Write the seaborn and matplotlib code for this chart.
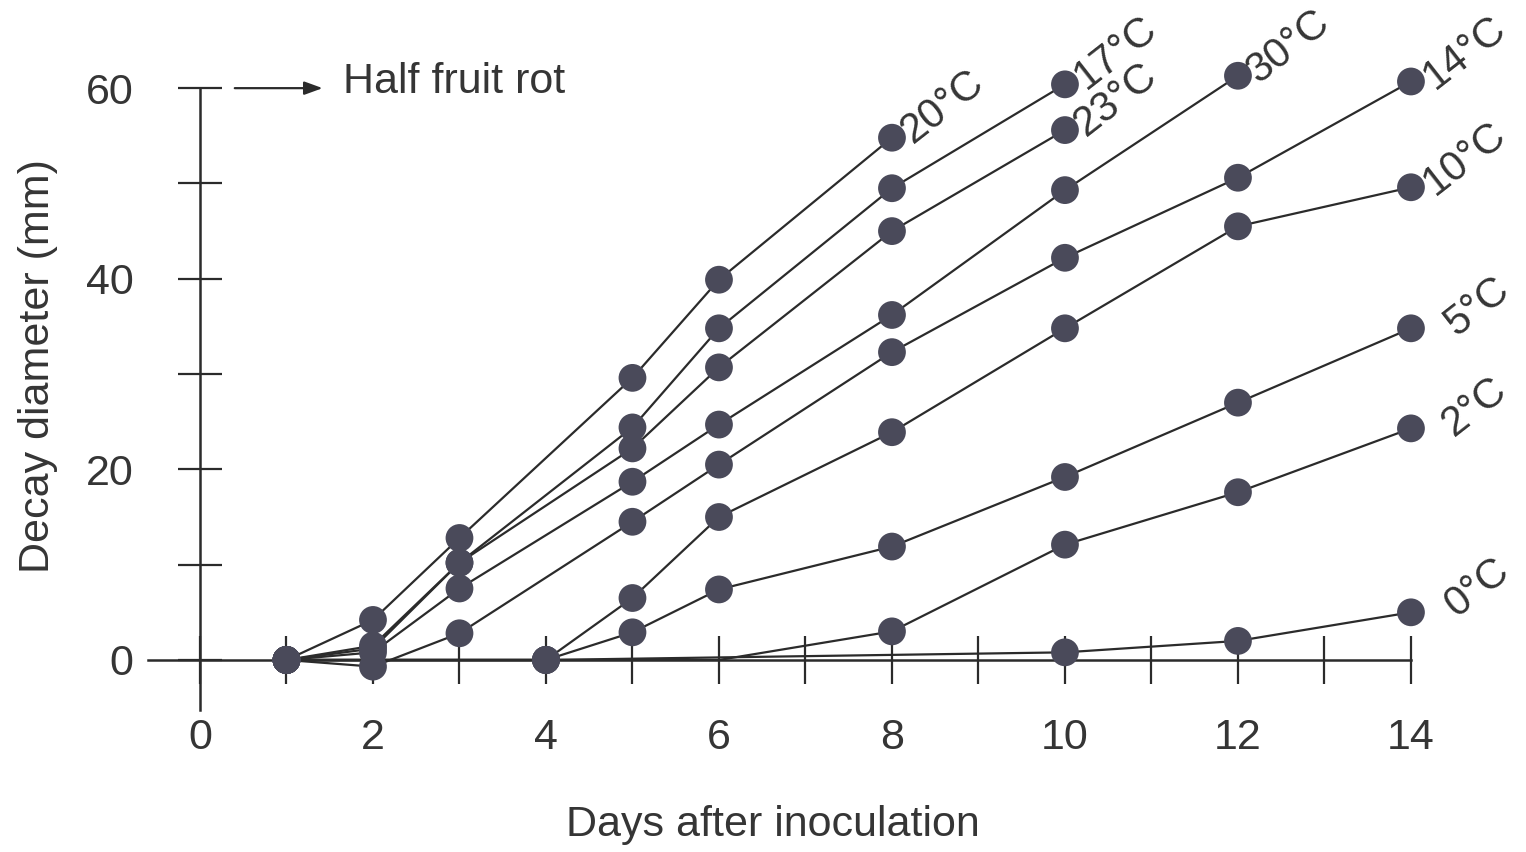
import matplotlib
matplotlib.use("Agg")
import matplotlib.pyplot as plt
import seaborn as sns
import pandas as pd
import numpy as np

# ---------------- data ----------------
series_names = ["20°C", "17°C", "23°C", "30°C", "14°C", "10°C", "5°C", "2°C", "0°C"]

days_20 = [1, 2, 3, 5, 6, 8]
vals_20 = [0, 4.2, 12.8, 29.6, 39.9, 54.8]

days_17 = [1, 2, 3, 5, 6, 8, 10]
vals_17 = [0, 1.5, 10.2, 24.4, 34.8, 49.5, 60.4]

days_23 = [1, 2, 3, 5, 6, 8, 10]
vals_23 = [0, 1.2, 10.2, 22.2, 30.7, 45.0, 55.6]

days_30 = [1, 2, 3, 5, 6, 8, 10, 12]
vals_30 = [0, 0.8, 7.5, 18.7, 24.7, 36.2, 49.3, 61.3]

days_14 = [1, 2, 3, 5, 6, 8, 10, 12, 14]
vals_14 = [0, -0.7, 2.8, 14.5, 20.5, 32.3, 42.2, 50.6, 60.7]

days_10 = [1, 4, 5, 6, 8, 10, 12, 14]
vals_10 = [0, 0, 6.5, 15.0, 23.9, 34.8, 45.5, 49.6]

days_5 = [1, 4, 5, 6, 8, 10, 12, 14]
vals_5 = [0, 0, 2.9, 7.4, 11.9, 19.2, 27.0, 34.8]

days_2 = [1, 4, 6, 8, 10, 12, 14]
vals_2 = [0, 0, 0, 3.0, 12.1, 17.6, 24.3]
marked_2 = [True, True, False, True, True, True, True]

days_0 = [1, 4, 10, 12, 14]
vals_0 = [0, 0, 0.8, 2.0, 5.0]

x_major = [0, 2, 4, 6, 8, 10, 12, 14]
x_minor = [1, 3, 5, 7, 9, 11, 13]
y_major = [0, 20, 40, 60]
y_minor = [10, 30, 50]
half_rot_level = 60

all_days = [days_20, days_17, days_23, days_30, days_14, days_10, days_5, days_2, days_0]
all_vals = [vals_20, vals_17, vals_23, vals_30, vals_14, vals_10, vals_5, vals_2, vals_0]

rows = []
for name, ds, vs in zip(series_names, all_days, all_vals):
    marks = marked_2 if name == "2°C" else [True] * len(ds)
    for d, v, m in zip(ds, vs, marks):
        rows.append({"series": name, "day": d, "value": v, "marked": m})
df = pd.DataFrame(rows)

# ---------------- style ----------------
sns.set_style("white")
plt.rcParams["font.family"] = ["Liberation Sans", "DejaVu Sans"]
LINE = "#2b2b2b"
MARK = "#4a4a5a"
TEXT = "#353535"
FS = 31

fig = plt.figure(figsize=(15.26, 8.52), dpi=100)
ax = fig.add_axes([0, 0, 1, 1])

sns.lineplot(data=df, x="day", y="value", units="series", estimator=None,
             sort=False, color=LINE, linewidth=1.6, ax=ax, zorder=2)
sns.scatterplot(data=df[df["marked"]], x="day", y="value", color=MARK,
                s=400, edgecolor="none", ax=ax, zorder=3, legend=False)

ax.set_xlim(-2.312, 15.33)
ax.set_ylim(-20.15, 69.25)

for s in ["top", "right"]:
    ax.spines[s].set_visible(False)
ax.spines["left"].set_position(("data", 0))
ax.spines["bottom"].set_position(("data", 0))
ax.spines["left"].set_bounds(-5.3, 60)
ax.spines["bottom"].set_bounds(-0.6, 14)
for s in ["left", "bottom"]:
    ax.spines[s].set_linewidth(1.8)
    ax.spines[s].set_color(LINE)

ax.set_xticks(x_major)
ax.set_xticks(x_minor, minor=True)
ax.set_yticks(y_major)
ax.set_yticks(y_minor, minor=True)
ax.set_xticklabels([str(v) for v in x_major])
ax.set_yticklabels([str(v) for v in y_major])
ax.tick_params(axis="x", which="both", bottom=True, direction="inout", length=34,
               width=1.6, color=LINE, labelsize=FS, labelcolor=TEXT, pad=25)
ax.tick_params(axis="y", which="both", left=True, direction="inout", length=32,
               width=1.6, color=LINE, labelsize=FS, labelcolor=TEXT, pad=32)

ax.set_xlabel("Days after inoculation", fontsize=FS, color=TEXT)
ax.set_ylabel("Decay diameter (mm)", fontsize=FS, color=TEXT)
ax.xaxis.set_label_coords(0.5066, 0.032)
ax.xaxis.label.set_verticalalignment("center")
ax.yaxis.set_label_coords(0.025, 0.57)
ax.yaxis.label.set_verticalalignment("center")

# half fruit rot arrow
ax.annotate("", xy=(1.45, half_rot_level), xytext=(0.37, half_rot_level),
            arrowprops=dict(arrowstyle="-|>,head_length=1.1,head_width=0.4",
                            color=LINE, lw=1.6))
ax.text(1.65, half_rot_level + 0.6, "Half fruit rot", fontsize=FS, color=TEXT,
        va="center", ha="left")

# series labels
label_offsets = {"20°C": (10, 2), "17°C": (10, 2), "23°C": (10, 1), "30°C": (10, 0),
                 "14°C": (12, 0), "10°C": (12, 0), "5°C": (28, 0), "2°C": (26, 0),
                 "0°C": (28, 2)}
for name, ds, vs in zip(series_names, all_days, all_vals):
    ax.annotate(name, xy=(ds[-1], vs[-1]), xytext=label_offsets[name],
                textcoords="offset points", rotation=38, rotation_mode="anchor",
                ha="left", va="center", fontsize=30, color=TEXT)

fig.savefig("out.png", dpi=100, facecolor="white")
